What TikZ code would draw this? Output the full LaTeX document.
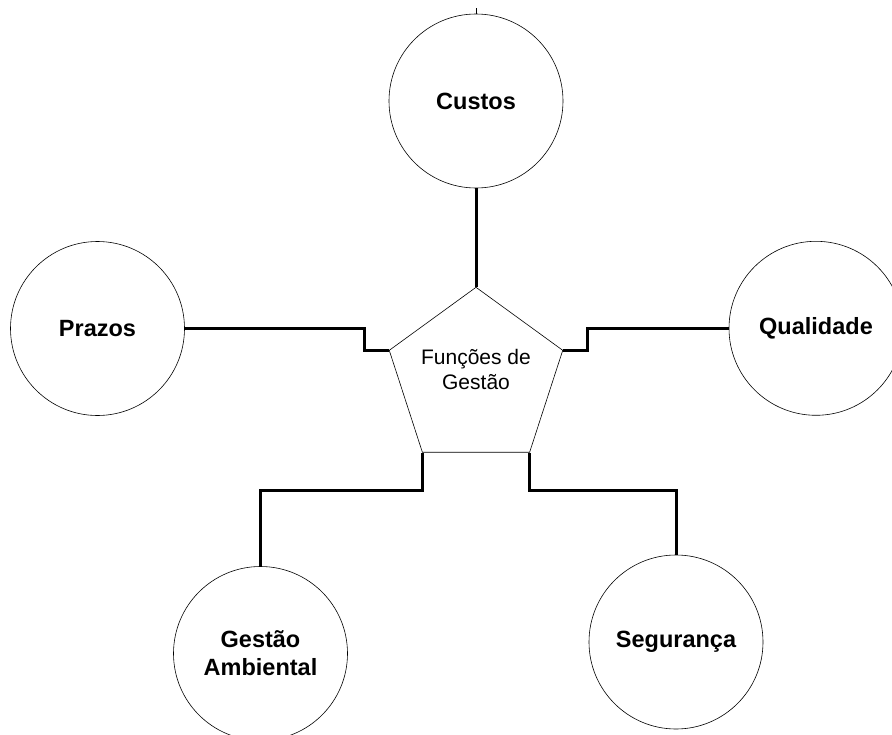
\documentclass[tikz,border=0pt]{standalone}
\usepackage{fontspec}
\setmainfont{Liberation Sans}
\usetikzlibrary{shapes.geometric}

\tikzset{
  topic/.style={circle, draw=black, line width=0.6pt, minimum size=174pt, inner sep=0pt,
    align=center, font=\fontsize{23.5}{28}\selectfont\bfseries},
  hub/.style={regular polygon, regular polygon sides=5, draw=black, line width=0.6pt,
    minimum size=182.4pt, inner sep=0pt},
  hubtext/.style={align=center, font=\fontsize{21}{25}\selectfont},
  link/.style={line width=3pt, line join=miter},
  tick/.style={line width=0.8pt}
}

\begin{document}
\begin{tikzpicture}[x=1pt, y=-1pt]
  \useasboundingbox (0,0) rectangle (892,734);
  \clip (0,0) rectangle (892,734);

  % central pentagon and its caption
  \node[hub] (fg) at (476,378.5) {};
  \node[hubtext] (fgtext) at (476,369) {Funções de\\Gestão};

  % surrounding topics
  \node[topic] (cus) at (476,101) {Custos};
  \node[topic] (pra) at (97.5,328.5) {Prazos};
  \node[topic] (qua) at (816,328.3) {Qualidade};
  \node[topic] (gam) at (260.5,653.5) {Gestão\\Ambiental};
  \node[topic] (seg) at (676,642) {Segurança};

  % connectors
  \draw[tick] (cus.north) -- ++(0,-6);
  \draw[link] (cus.south) -- (fg.corner 1);
  \draw[link] (pra.east) -- ++(180,0) |- (fg.corner 2);
  \draw[link] (fg.corner 5) -- ++(24.5,0) |- (qua.west);
  \draw[link] (fg.corner 3) -- ++(0,38.3) -| (gam.north);
  \draw[link] (fg.corner 4) -- ++(0,38.3) -| (seg.north);
\end{tikzpicture}
\end{document}
